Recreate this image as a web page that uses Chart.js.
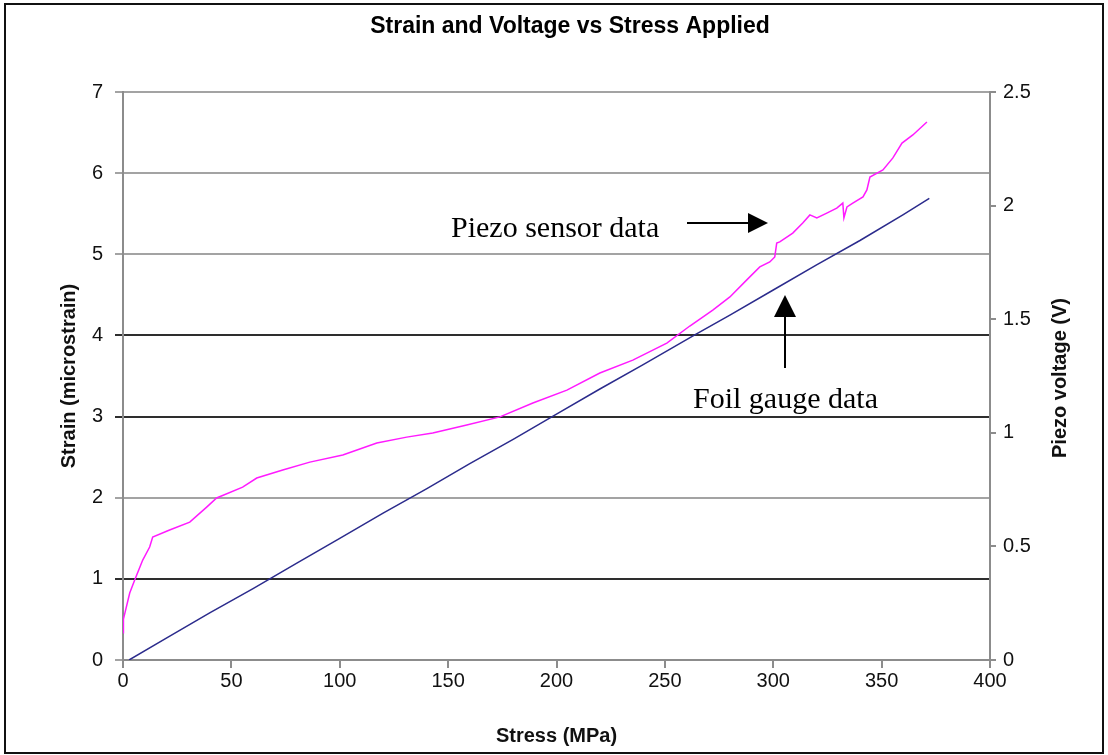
<!DOCTYPE html>
<html>
<head>
<meta charset="utf-8">
<title>Strain and Voltage vs Stress Applied</title>
<script src="https://cdn.jsdelivr.net/npm/chart.js@4.4.1/dist/chart.umd.min.js"></script>
<style>
  html, body { margin: 0; padding: 0; background: #fff; }
  #wrap { width: 1108px; height: 755px; }
</style>
</head>
<body>
<div id="wrap"><canvas id="graphCanvas" width="1108" height="755"></canvas></div>
<script>
// 応力 (MPa) とフォイルゲージのひずみ (microstrain)
var foilStress = [2.8, 20, 40, 60, 80, 100, 120, 140, 160, 180, 200, 220, 240, 264, 280, 300, 320, 340, 360, 372];
var foilStrain = [0, 0.27, 0.58, 0.88, 1.19, 1.50, 1.81, 2.11, 2.42, 2.72, 3.03, 3.34, 3.64, 4.01, 4.25, 4.56, 4.87, 5.17, 5.49, 5.69];

// 圧電センサーの電圧 (V)
var piezoStress = [0, 0.2, 3.1, 5.4, 9.1, 12.3, 13.7, 21.5, 30.8, 38.6, 43.2, 55.2, 61.7, 73.7, 86.2,
  101.4, 117.1, 130.9, 142.9, 158.6, 173.9, 189.1, 204.8, 220.0, 235.2, 250.9, 261.5, 272.1, 280.0,
  287.8, 293.8, 298.4, 300.7, 301.6, 303.0, 309.0, 313.6, 316.9, 320.1, 324.7, 329.3, 332.1, 332.6,
  334.0, 336.7, 341.4, 343.2, 344.6, 350.6, 355.2, 359.4, 364.4, 370.9];
var piezoVolt = [0.12, 0.18, 0.295, 0.352, 0.44, 0.497, 0.541, 0.572, 0.607, 0.673, 0.713, 0.761, 0.801, 0.836, 0.871,
  0.902, 0.955, 0.981, 0.999, 1.034, 1.07, 1.131, 1.188, 1.263, 1.32, 1.395, 1.47, 1.54, 1.598,
  1.673, 1.73, 1.752, 1.774, 1.835, 1.84, 1.879, 1.923, 1.959, 1.946, 1.967, 1.989, 2.011, 1.946,
  1.994, 2.011, 2.038, 2.069, 2.126, 2.157, 2.21, 2.275, 2.311, 2.368];

// 目盛り
var xTicks = [0, 50, 100, 150, 200, 250, 300, 350, 400];
var strainTicks = [0, 1, 2, 3, 4, 5, 6, 7];
var voltTicks = [0, 0.5, 1, 1.5, 2, 2.5];
var darkLines = [1, 3, 4];

var SANS = '"Liberation Sans", Arial, sans-serif';

function toPoints(xs, ys) {
  return xs.map(function(v, i) { return { x: v, y: ys[i] }; });
}

// タイトル・右軸タイトル・注釈・枠線
var decorPlugin = {
  id: 'decor',
  afterDraw: function(chart) {
    var ctx = chart.ctx;
    ctx.save();
    ctx.fillStyle = '#000';
    ctx.font = 'bold 23px ' + SANS;
    ctx.textAlign = 'center';
    ctx.textBaseline = 'middle';
    ctx.fillText('Strain and Voltage vs Stress Applied', 570, 27);

    // 右軸タイトル（下から上へ）
    ctx.save();
    ctx.translate(1060, 378);
    ctx.rotate(-Math.PI / 2);
    ctx.font = 'bold 20px ' + SANS;
    ctx.fillStyle = '#111';
    ctx.fillText('Piezo voltage (V)', 0, 0);
    ctx.restore();

    ctx.font = '30px "Liberation Serif", "Times New Roman", serif';
    ctx.textAlign = 'left';
    ctx.textBaseline = 'alphabetic';
    ctx.fillText('Piezo sensor data', 451, 237);
    ctx.fillText('Foil gauge data', 693, 408);

    // 矢印
    ctx.strokeStyle = '#000';
    ctx.lineWidth = 2;
    ctx.beginPath();
    ctx.moveTo(687, 223); ctx.lineTo(750, 223);
    ctx.moveTo(785, 368); ctx.lineTo(785, 315);
    ctx.stroke();
    ctx.beginPath();
    ctx.moveTo(768, 223); ctx.lineTo(748, 213); ctx.lineTo(748, 233); ctx.closePath();
    ctx.fill();
    ctx.beginPath();
    ctx.moveTo(785, 295); ctx.lineTo(774, 317); ctx.lineTo(796, 317); ctx.closePath();
    ctx.fill();

    ctx.lineWidth = 2;
    ctx.strokeStyle = '#111';
    ctx.strokeRect(5, 4, 1098, 749);
    ctx.restore();
  }
};

var ctx = document.getElementById('graphCanvas').getContext('2d');
var myChart = new Chart(ctx, {
  type: 'line',
  data: {
    datasets: [{
      label: 'Piezo sensor data',
      data: toPoints(piezoStress, piezoVolt),
      yAxisID: 'y2',
      borderColor: '#ff1aff',
      borderWidth: 1.5,
      pointRadius: 0,
      tension: 0
    }, {
      label: 'Foil gauge data',
      data: toPoints(foilStress, foilStrain),
      yAxisID: 'y',
      borderColor: '#2b2b8c',
      borderWidth: 1.5,
      pointRadius: 0,
      tension: 0
    }]
  },
  options: {
    responsive: false,
    animation: false,
    layout: { padding: { top: 92, left: 0, right: 0, bottom: 0 } },
    plugins: {
      legend: { display: false },
      title: { display: false },
      tooltip: { enabled: false }
    },
    scales: {
      x: {
        type: 'linear',
        position: 'bottom',
        min: 0, max: 400,
        afterBuildTicks: function(s) { s.ticks = xTicks.map(function(v) { return { value: v }; }); },
        afterFit: function(s) { s.height = 95; },
        border: { color: '#8c8c8c', width: 2 },
        grid: { drawOnChartArea: false, color: '#8c8c8c', lineWidth: 2, tickLength: 8 },
        ticks: { color: '#111', padding: 1, maxRotation: 0, font: { family: SANS, size: 20 } },
        title: { display: true, text: 'Stress (MPa)', color: '#111', padding: { top: 0, bottom: 7 },
          font: { family: SANS, size: 20, weight: 'bold' } }
      },
      y: {
        position: 'left',
        min: 0, max: 7,
        afterBuildTicks: function(s) { s.ticks = strainTicks.map(function(v) { return { value: v }; }); },
        afterFit: function(s) { s.width = 123; },
        border: { color: '#8c8c8c', width: 2 },
        grid: {
          lineWidth: 2,
          tickLength: 8,
          color: function(c) {
            if (c.tick && darkLines.indexOf(c.tick.value) >= 0) return '#2e2e2e';
            return '#a3a3a3';
          }
        },
        ticks: { color: '#111', padding: 12, font: { family: SANS, size: 20 } },
        title: { display: true, text: 'Strain (microstrain)', color: '#111', padding: { top: 57, bottom: 0 },
          font: { family: SANS, size: 20, weight: 'bold' } }
      },
      y2: {
        position: 'right',
        min: 0, max: 2.5,
        afterBuildTicks: function(s) { s.ticks = voltTicks.map(function(v) { return { value: v }; }); },
        afterFit: function(s) { s.width = 118; },
        border: { color: '#8c8c8c', width: 2 },
        grid: { drawOnChartArea: false, color: '#8c8c8c', lineWidth: 2, tickLength: 6 },
        ticks: {
          color: '#111', padding: 7, font: { family: SANS, size: 20 },
          callback: function(v) { return String(v); }
        },
        title: { display: false }
      }
    }
  },
  plugins: [decorPlugin]
});
</script>
</body>
</html>
